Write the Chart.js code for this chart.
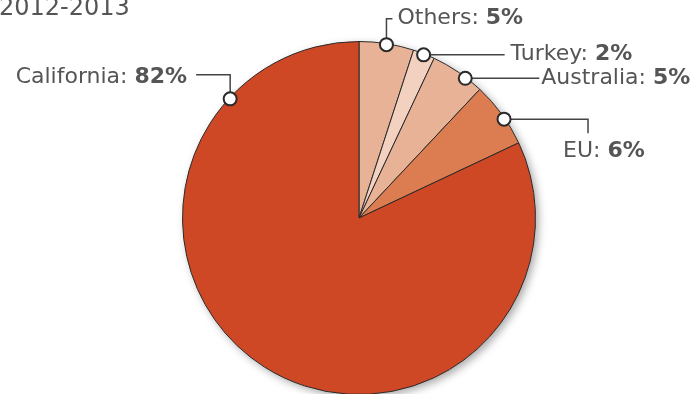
<!DOCTYPE html>
<html>
<head>
<meta charset="utf-8">
<script src="https://cdn.jsdelivr.net/npm/chart.js@4"></script>
<style>
  html, body { margin: 0; padding: 0; background: #fff; overflow: hidden; }
  #wrap { position: relative; width: 698px; height: 420px; }
</style>
</head>
<body>
<div id="wrap"><canvas id="pie" width="698" height="420"></canvas></div>
<script>
// data (clockwise from 12 o'clock)
const title = '2012-2013';
const regions = ['Others', 'Turkey', 'Australia', 'EU', 'California'];
const shares = [5, 2, 5, 6, 82];
const sliceColors = ['#E8B296', '#F2D1C0', '#E8B296', '#DB7D51', '#CF4825'];

const FONT = '"DejaVu Sans", Verdana, sans-serif';
const TEXT = '#555555';
const LINE = '#444444';
const LABEL_SIZE = 22;

// callout shapes: where the marker sits in the slice (0..1), the leader path
// from the marker (relative steps) and where the text goes
const callouts = [
    { at: 0.5,  path: [[0, -26], [6, 0]],   text: [5, 0],   align: 'left' },
    { at: 0.5,  path: [[81, 0]],            text: [6, -1],  align: 'left' },
    { at: 0.67, path: [[74, 0]],            text: [2, 0],   align: 'left' },
    { at: 0.58, path: [[84, 0], [0, 14]],   text: [-25, 18], align: 'left' },
    { at: 0.84, path: [[0, -24], [-34, 0]], text: [-9, 2],  align: 'right' },
];

const shadowPlugin = {
    id: 'pieShadow',
    beforeDatasetsDraw(chart) {
        const arc = chart.getDatasetMeta(0).data[0];
        if (!arc) return;
        const ctx = chart.ctx;
        ctx.save();
        ctx.shadowColor = 'rgba(0,0,0,0.35)';
        ctx.shadowBlur = 8;
        ctx.shadowOffsetX = 3;
        ctx.shadowOffsetY = 3;
        ctx.fillStyle = '#fff';
        ctx.beginPath();
        ctx.arc(arc.x, arc.y, arc.outerRadius, 0, Math.PI * 2);
        ctx.fill();
        ctx.restore();
    },
};

const calloutPlugin = {
    id: 'callouts',
    afterDatasetsDraw(chart) {
        const ctx = chart.ctx;
        const meta = chart.getDatasetMeta(0);
        ctx.save();

        // title, partly cut by the top edge like the original
        ctx.font = `24px ${FONT}`;
        ctx.fillStyle = TEXT;
        ctx.textAlign = 'left';
        ctx.textBaseline = 'alphabetic';
        ctx.fillText(title, -1, 15);

        meta.data.forEach((arc, i) => {
            const c = callouts[i];
            const a = arc.startAngle + (arc.endAngle - arc.startAngle) * c.at;
            const r = arc.outerRadius - 1;
            const x0 = arc.x + Math.cos(a) * r;
            const y0 = arc.y + Math.sin(a) * r;

            // leader line
            ctx.strokeStyle = LINE;
            ctx.lineWidth = 1.5;
            ctx.beginPath();
            ctx.moveTo(x0, y0);
            let x = x0, y = y0;
            c.path.forEach(([dx, dy]) => { x += dx; y += dy; ctx.lineTo(x, y); });
            ctx.stroke();

            // marker
            ctx.beginPath();
            ctx.arc(x0, y0, 6.5, 0, Math.PI * 2);
            ctx.fillStyle = '#fff';
            ctx.fill();
            ctx.strokeStyle = '#2a2a2a';
            ctx.lineWidth = 2;
            ctx.stroke();

            // label: "Name: " normal + "NN%" bold
            const name = regions[i] + ': ';
            const pct = shares[i] + '%';
            ctx.font = `${LABEL_SIZE}px ${FONT}`;
            const w1 = ctx.measureText(name).width;
            ctx.font = `bold ${LABEL_SIZE}px ${FONT}`;
            const w2 = ctx.measureText(pct).width;
            let tx = x + c.text[0];
            const ty = y + c.text[1];
            if (c.align === 'right') tx -= w1 + w2;
            ctx.textBaseline = 'middle';
            ctx.textAlign = 'left';
            ctx.fillStyle = TEXT;
            ctx.font = `${LABEL_SIZE}px ${FONT}`;
            ctx.fillText(name, tx, ty);
            ctx.font = `bold ${LABEL_SIZE}px ${FONT}`;
            ctx.fillText(pct, tx + w1, ty);
        });
        ctx.restore();
    },
};

new Chart(document.getElementById('pie'), {
    type: 'pie',
    data: {
        labels: regions,
        datasets: [{
            data: shares,
            backgroundColor: sliceColors,
            borderColor: '#2a2a2a',
            borderWidth: 1,
            hoverOffset: 0,
        }],
    },
    options: {
        responsive: false,
        animation: false,
        events: [],
        layout: { padding: { top: 41, bottom: 25, left: 182, right: 162 } },
        plugins: {
            legend: { display: false },
            tooltip: { enabled: false },
        },
    },
    plugins: [shadowPlugin, calloutPlugin],
});
</script>
</body>
</html>
